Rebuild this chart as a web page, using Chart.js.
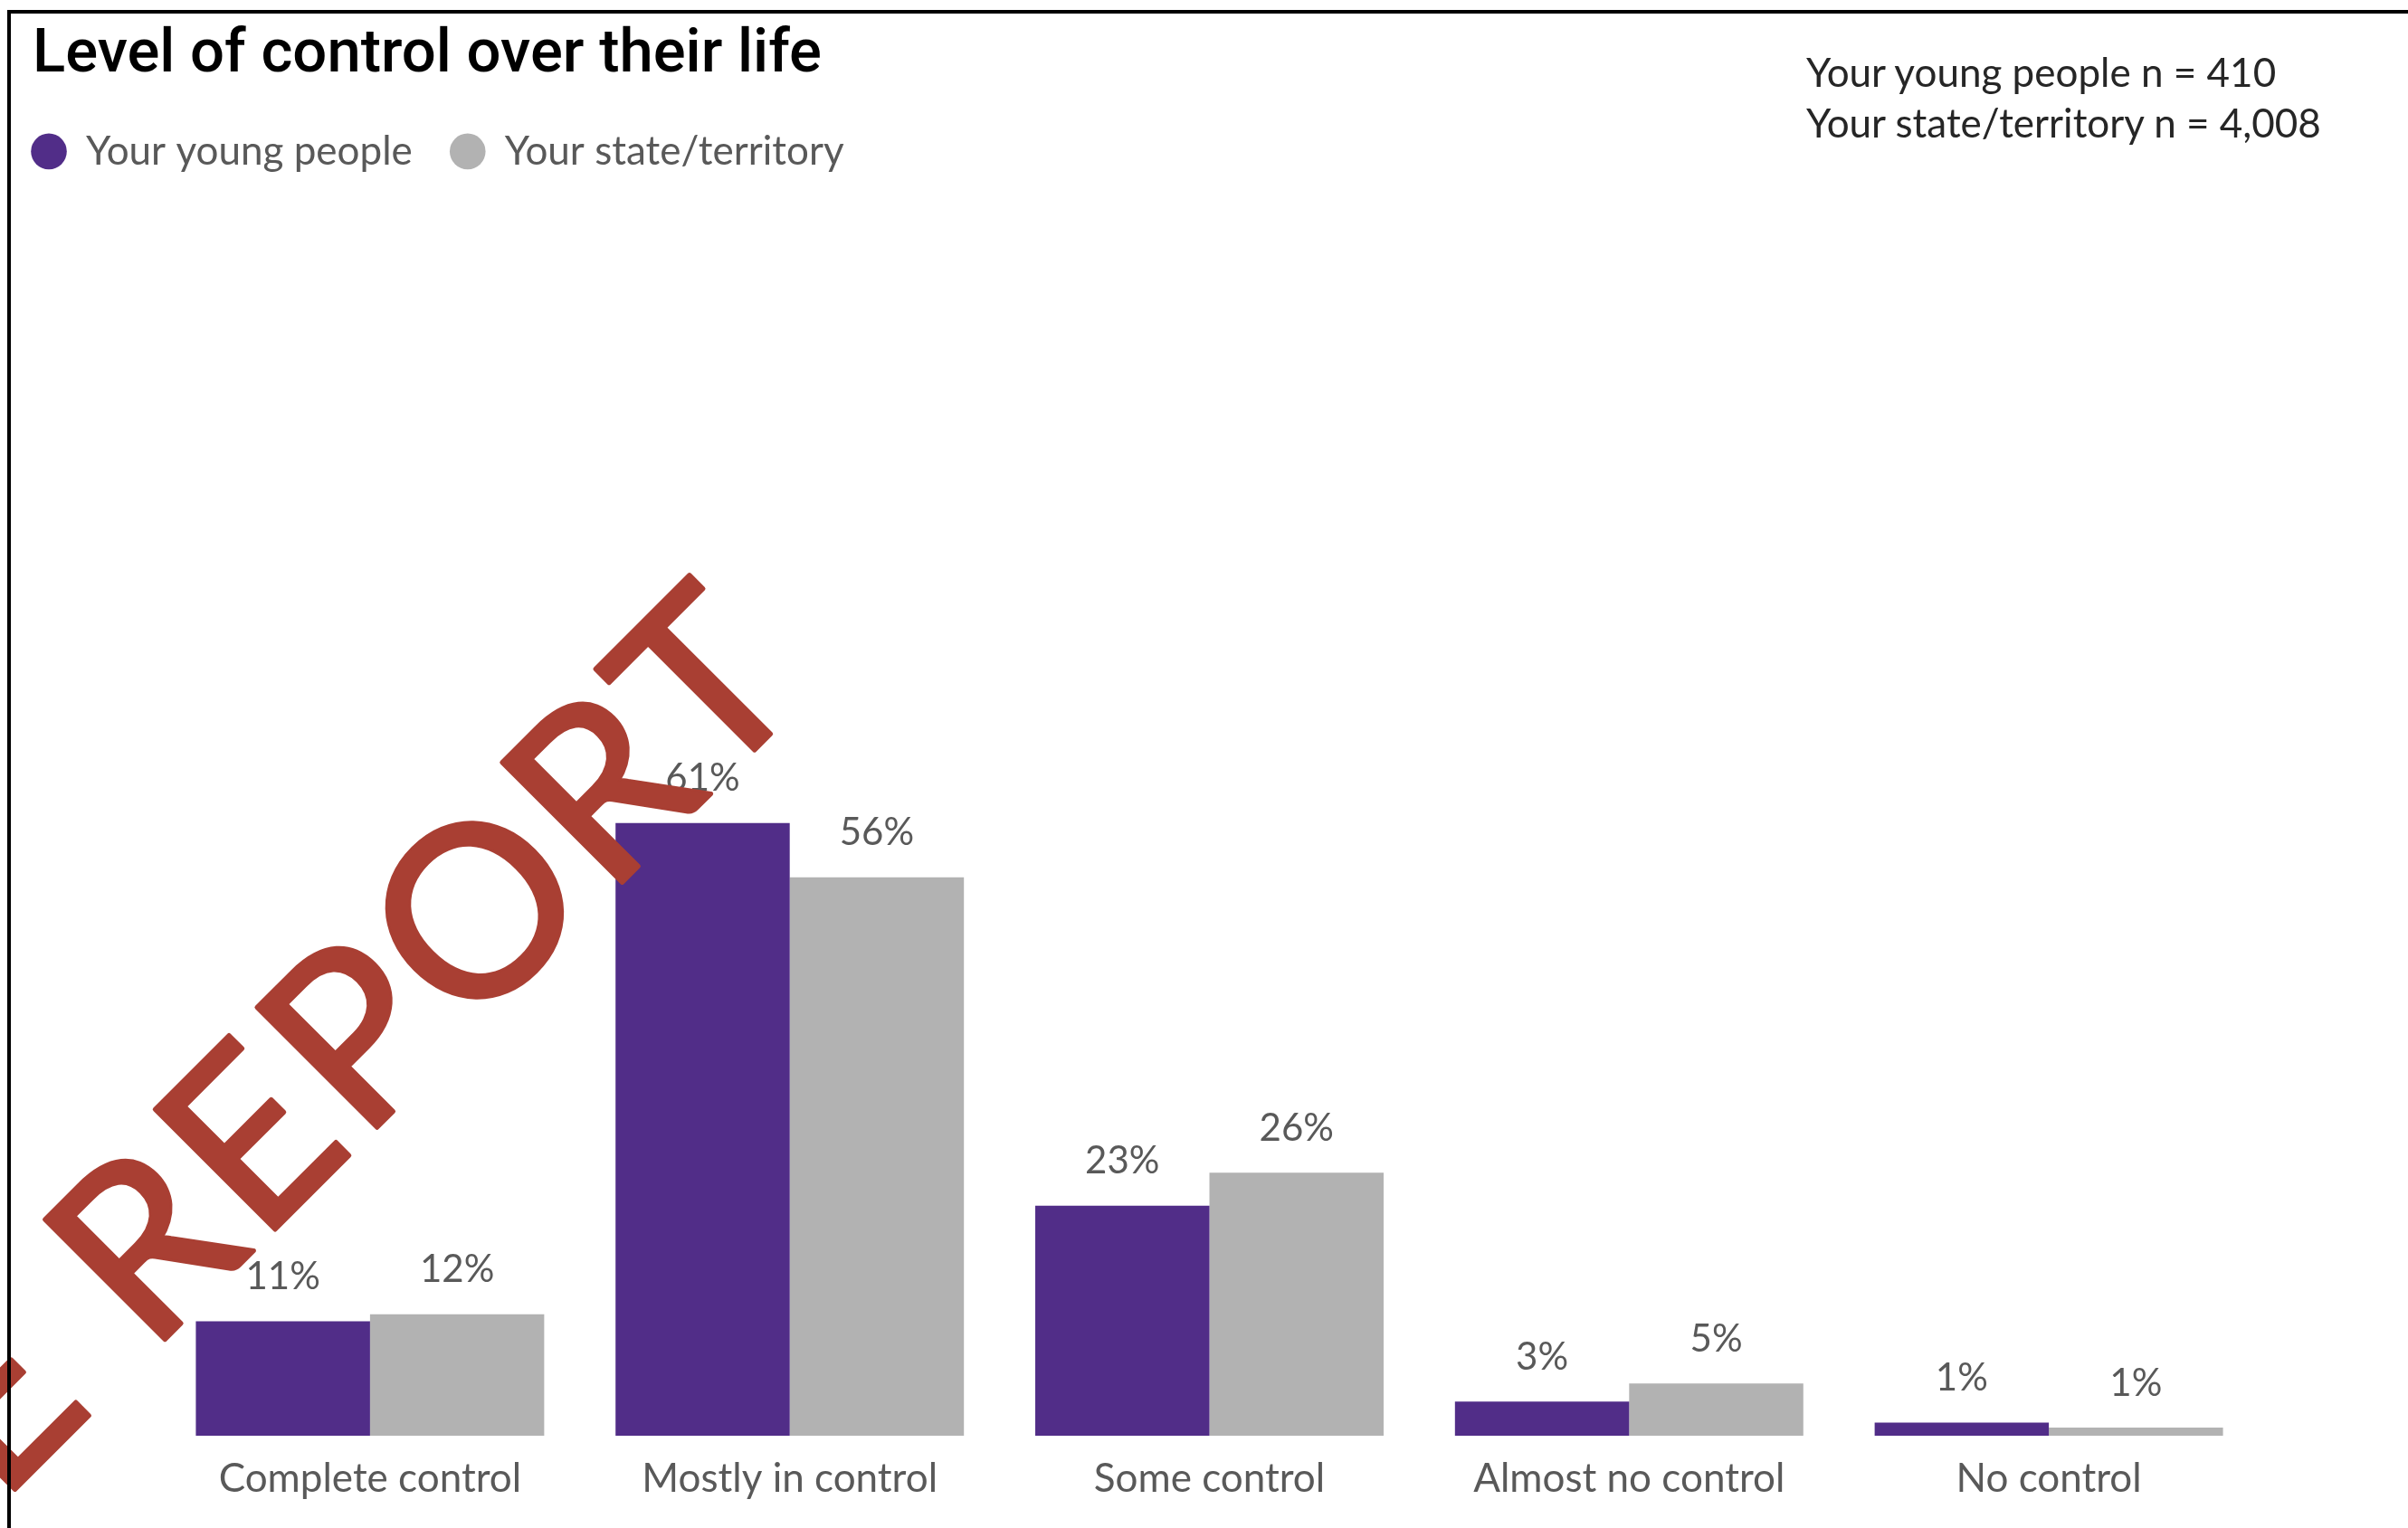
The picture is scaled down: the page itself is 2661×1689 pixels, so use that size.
<!DOCTYPE html>
<html>
<head>
<meta charset="utf-8">
<script src="https://cdn.jsdelivr.net/npm/chart.js@4.4.1/dist/chart.umd.min.js"></script>
<style>
  html, body { margin: 0; padding: 0; background: #fff; }
  #wrap { position: relative; width: 2661px; height: 1689px; overflow: hidden; }
  #chart { display: block; }
  #frame { position: absolute; left: 8px; top: 11px; right: -10px; bottom: -10px;
           border-top: 4px solid #000; border-left: 4px solid #000; pointer-events: none; }
  #note { position: absolute; left: 1996px; top: 51px; font-family: Lato, sans-serif;
          font-size: 44px; line-height: 56px; color: #262626; white-space: nowrap; }
</style>
</head>
<body>
<div id="wrap">
  <canvas id="chart" width="2661" height="1689"></canvas>
  <div id="frame"></div>
  <div id="note">Your young people n = 410<br>Your state/territory n = 4,008</div>
</div>
<script>
const categories = ['Complete control', 'Mostly in control', 'Some control', 'Almost no control', 'No control'];
const seriesNames = ['Your young people', 'Your state/territory'];
const youngPeople = [11.4, 61.0, 22.9, 3.4, 1.3];
const stateTerritory = [12.1, 55.6, 26.2, 5.2, 0.8];
const chartTitle = 'Level of control over their life';
const watermark = 'SAMPLE REPORT';

Chart.defaults.font.family = 'Lato';

// percentage labels above each bar
const barLabels = {
  id: 'barLabels',
  afterDatasetsDraw(chart) {
    const ctx = chart.ctx;
    ctx.save();
    ctx.font = '42px Lato';
    ctx.fillStyle = '#595959';
    ctx.textAlign = 'center';
    ctx.textBaseline = 'middle';
    chart.data.datasets.forEach((ds, i) => {
      chart.getDatasetMeta(i).data.forEach((bar, j) => {
        ctx.fillText(Math.round(ds.data[j]) + '%', bar.x, bar.y - 49);
      });
    });
    ctx.restore();
  }
};

// legend sits a little further left than its padding allows
const legendShift = {
  id: 'legendShift',
  afterInit(chart) {
    const legend = chart.legend;
    const draw = legend.draw.bind(legend);
    legend.draw = function (area) {
      chart.ctx.save();
      chart.ctx.translate(-43, 0);
      draw(area);
      chart.ctx.restore();
    };
  }
};

// diagonal watermark, anchored on the stem of the final T
const stamp = {
  id: 'stamp',
  afterDraw(chart) {
    const ctx = chart.ctx;
    ctx.save();
    ctx.font = '262px Lato';
    ctx.letterSpacing = '8px';
    const before = ctx.measureText(watermark.slice(0, -1)).width;
    const last = ctx.measureText(watermark.slice(-1)).width - 8;
    ctx.translate(847, 816);
    ctx.rotate(-45 * Math.PI / 180);
    ctx.textAlign = 'left';
    ctx.textBaseline = 'alphabetic';
    ctx.fillStyle = '#A93F33';
    ctx.strokeStyle = '#A93F33';
    ctx.lineWidth = 5;
    ctx.lineJoin = 'round';
    const x0 = -(before + last / 2);
    ctx.strokeText(watermark, x0, 0);
    ctx.fillText(watermark, x0, 0);
    ctx.restore();
  }
};

new Chart(document.getElementById('chart'), {
  type: 'bar',
  data: {
    labels: categories,
    datasets: [
      { label: seriesNames[0], data: youngPeople, backgroundColor: '#512D88', borderWidth: 0 },
      { label: seriesNames[1], data: stateTerritory, backgroundColor: '#B2B2B2', borderWidth: 0 }
    ]
  },
  options: {
    responsive: false,
    animation: false,
    events: [],
    layout: { padding: { left: 36, right: 165, top: 0, bottom: 0 } },
    datasets: { bar: { categoryPercentage: 0.83, barPercentage: 1 } },
    scales: {
      x: {
        grid: { display: false, drawTicks: false },
        border: { display: false },
        ticks: { color: '#595959', font: { size: 44 }, padding: 21 },
        afterFit(s) { s.height = 102; }
      },
      y: {
        min: 0,
        max: 125,
        ticks: { display: false },
        grid: { display: false, drawTicks: false },
        border: { display: false },
        afterFit(s) { s.width = 141; }
      }
    },
    plugins: {
      title: {
        display: true,
        text: chartTitle,
        align: 'start',
        color: '#000',
        font: { family: 'Roboto', weight: '500', size: 67 },
        padding: { top: 22, bottom: 1 }
      },
      legend: {
        position: 'top',
        align: 'start',
        labels: {
          usePointStyle: true,
          pointStyle: 'circle',
          boxWidth: 38,
          boxHeight: 28,
          padding: 42,
          color: '#595959',
          font: { size: 44 }
        }
      },
      tooltip: { enabled: false }
    }
  },
  plugins: [barLabels, legendShift, stamp]
});
</script>
</body>
</html>
